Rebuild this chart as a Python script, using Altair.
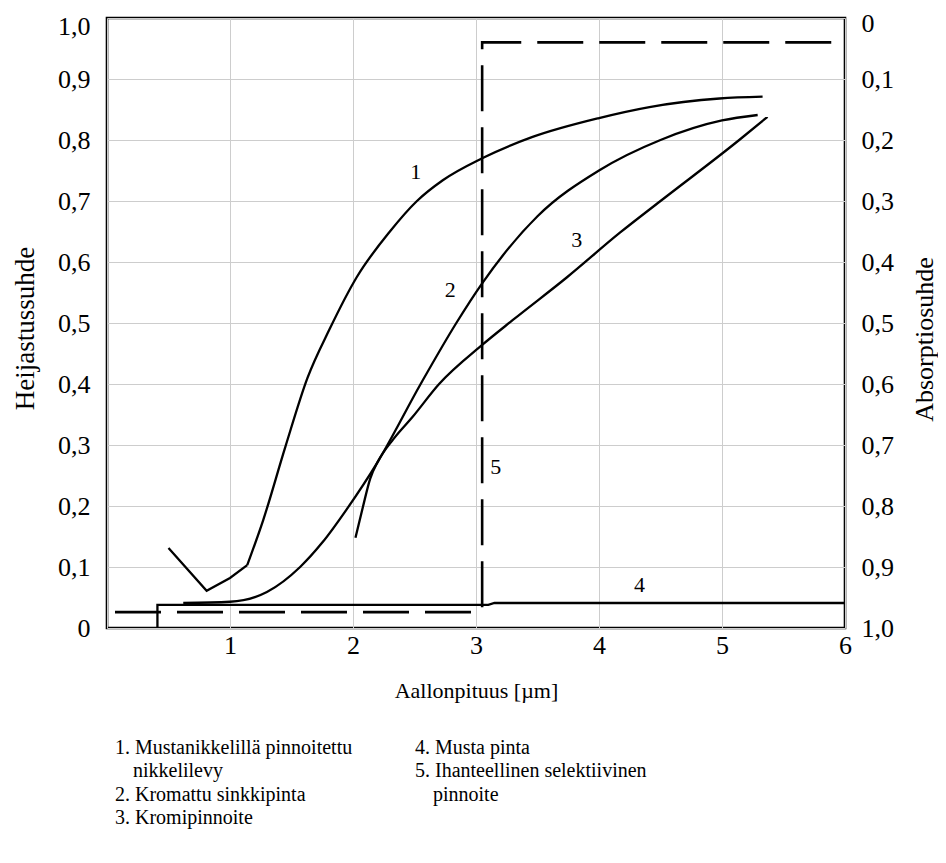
import altair as alt
import pandas as pd

FONT = "Liberation Serif"

# ---- data (wavelength in µm, reflectance ratio) ----
# curve 1: Mustanikkelillä pinnoitettu nikkelilevy (straight first leg + smooth rest)
c1a_x = [0.50, 0.81, 1.00, 1.14]
c1a_y = [0.131, 0.061, 0.082, 0.103]
c1b_x = [1.14, 1.27, 1.45, 1.63, 1.81, 2.03, 2.30, 2.52, 2.73, 3.05, 3.46, 4.00, 4.41, 4.98, 5.33]
c1b_y = [0.103, 0.177, 0.297, 0.410, 0.490, 0.575, 0.650, 0.700, 0.734, 0.770, 0.805, 0.836, 0.854, 0.868, 0.871]
# curve 2: Kromattu sinkkipinta
c2_x = [0.62, 1.00, 1.30, 1.57, 1.75, 1.95, 2.20, 2.55, 2.84, 3.05, 3.50, 4.00, 4.50, 5.00, 5.29]
c2_y = [0.041, 0.043, 0.059, 0.100, 0.140, 0.195, 0.272, 0.400, 0.500, 0.565, 0.675, 0.750, 0.800, 0.832, 0.841]
# curve 3: Kromipinnoite
c3_x = [2.02, 2.08, 2.14, 2.20, 2.33, 2.48, 2.70, 3.05, 3.30, 3.74, 4.17, 4.50, 5.14, 5.37]
c3_y = [0.148, 0.198, 0.245, 0.272, 0.310, 0.345, 0.400, 0.464, 0.505, 0.575, 0.648, 0.700, 0.800, 0.838]
# curve 4: Musta pinta
c4_x = [0.41, 0.41, 3.10, 3.15, 6.00]
c4_y = [0.000, 0.038, 0.038, 0.041, 0.041]
# curve 5: Ihanteellinen selektiivinen pinnoite (dashed)
c5_x = [0.065, 3.05, 3.05, 5.96]
c5_y = [0.026, 0.026, 0.960, 0.960]

# curve number labels
lab_text = ["1", "2", "3", "4", "5"]
lab_x = [2.51, 2.79, 3.82, 4.33, 3.16]
lab_y = [0.748, 0.554, 0.636, 0.070, 0.264]

# ticks
x_ticks = [0, 1, 2, 3, 4, 5, 6]
y_ticks = [0.0, 0.1, 0.2, 0.3, 0.4, 0.5, 0.6, 0.7, 0.8, 0.9, 1.0]

# legend below the chart
leg_text = ["1. Mustanikkelillä pinnoitettu", "nikkelilevy", "2. Kromattu sinkkipinta",
            "3. Kromipinnoite", "4. Musta pinta", "5. Ihanteellinen selektiivinen", "pinnoite"]
leg_col = [0, 0, 0, 0, 1, 1, 1]
leg_row = [0, 1, 2, 3, 0, 1, 2]
leg_indent = [0, 1, 0, 0, 0, 0, 1]

W, H = 738, 610


def sdf(xs, ys, name):
    return pd.DataFrame({"wl": xs, "r": ys, "s": name, "o": list(range(len(xs)))})


smooth_df = pd.concat([sdf(c1b_x, c1b_y, "1"), sdf(c2_x, c2_y, "2"), sdf(c3_x, c3_y, "3")])
straight_df = pd.concat([sdf(c1a_x, c1a_y, "1"), sdf(c4_x, c4_y, "4")])
dashed_df = sdf(c5_x, c5_y, "5")
labels_df = pd.DataFrame({"t": lab_text, "wl": lab_x, "r": lab_y})
legend_df = pd.DataFrame({"t": leg_text, "c": leg_col, "row": leg_row, "ind": leg_indent})

xs = alt.Scale(domain=[0, 6], nice=False, zero=False)
ys = alt.Scale(domain=[0, 1], nice=False)

y_lab = "datum.value == 0 ? '0' : replace(format(datum.value, '.1f'), '.', ',')"

left_axis = alt.Axis(
    orient="left", values=y_ticks, labelExpr=y_lab, grid=True, gridColor="#cdcdcd", gridWidth=1,
    domain=False, ticks=False, labelFont=FONT, labelFontSize=26, labelColor="black", labelPadding=17,
    labelOffset={"condition": {"test": "datum.value == 1", "value": 8}, "value": 0},
    title="Heijastussuhde", titleFont=FONT, titleFontSize=27, titleFontWeight="normal",
    titleColor="black", titleX=-82, titleY=310, titleBaseline="middle",
)
bottom_axis = alt.Axis(
    orient="bottom", values=x_ticks, labelExpr="datum.value == 0 ? '' : format(datum.value, 'd')",
    grid=True, gridColor="#cdcdcd", gridWidth=1, domain=False, ticks=False, labelFont=FONT,
    labelFontSize=26, labelColor="black", labelPadding=4, labelFlush=False,
    title="Aallonpituus [µm]", titleFont=FONT, titleFontSize=22, titleFontWeight="normal",
    titleColor="black", titleY=62, titleBaseline="middle",
)

smooth = alt.Chart(smooth_df).mark_line(color="black", strokeWidth=2.3, interpolate="monotone").encode(
    x=alt.X("wl:Q", scale=xs, axis=bottom_axis),
    y=alt.Y("r:Q", scale=ys, axis=left_axis),
    detail="s:N", order="o:Q",
)
straight = alt.Chart(straight_df).mark_line(color="black", strokeWidth=2.3).encode(
    x=alt.X("wl:Q", scale=xs), y=alt.Y("r:Q", scale=ys), detail="s:N", order="o:Q",
)
dashed = alt.Chart(dashed_df).mark_line(color="black", strokeWidth=2.6, strokeDash=[46, 16]).encode(
    x=alt.X("wl:Q", scale=xs), y=alt.Y("r:Q", scale=ys), order="o:Q",
)
labels = alt.Chart(labels_df).mark_text(font=FONT, fontSize=22, color="black").encode(
    x=alt.X("wl:Q", scale=xs), y=alt.Y("r:Q", scale=ys), text="t:N",
)

curves = alt.layer(smooth, straight, dashed, labels)

right_axis_layer = alt.Chart(dashed_df).transform_calculate(a="1 - datum.r").mark_line(opacity=0).encode(
    x=alt.X("wl:Q", scale=xs),
    y=alt.Y("a:Q", scale=alt.Scale(domain=[0, 1], nice=False, reverse=True),
            axis=alt.Axis(orient="right", values=y_ticks, labelExpr=y_lab, grid=False, domain=False,
                          ticks=False, labelFont=FONT, labelFontSize=26, labelColor="black",
                          labelPadding=16,
                          labelOffset={"condition": {"test": "datum.value == 0", "value": 5}, "value": 0},
                          title="Absorptiosuhde", titleFont=FONT, titleFontSize=26,
                          titleFontWeight="normal", titleColor="black", titleX=79, titleAngle=270,
                          titleBaseline="middle", titleY=321)),
)

plot = alt.layer(curves, right_axis_layer).resolve_scale(y="independent")

leg_x = alt.X("c:Q", scale=alt.Scale(domain=[0, 1], range=[8, 308]), axis=None)
leg_y = alt.Y("row:Q", scale=alt.Scale(domain=[0, 3], range=[730, 800]), axis=None)
legend_main = alt.Chart(legend_df).transform_filter("datum.ind == 0").mark_text(
    font=FONT, fontSize=20, color="black", align="left", baseline="middle").encode(
    x=leg_x, y=leg_y, text="t:N")
legend_ind = alt.Chart(legend_df).transform_filter("datum.ind == 1").mark_text(
    font=FONT, fontSize=20, color="black", align="left", baseline="middle", dx=18).encode(
    x=leg_x, y=leg_y, text="t:N")
legend = alt.layer(legend_main, legend_ind)

chart = alt.layer(plot, legend).resolve_scale(x="independent", y="independent").properties(
    width=W, height=H,
    autosize=alt.AutoSizeParams(type="none"),
    padding={"left": 99, "top": 10, "right": 93, "bottom": 220},
    background="white",
).configure_view(stroke="black", strokeWidth=2.6)

chart.save("out.html", embed_options={"renderer": "svg", "actions": False})
